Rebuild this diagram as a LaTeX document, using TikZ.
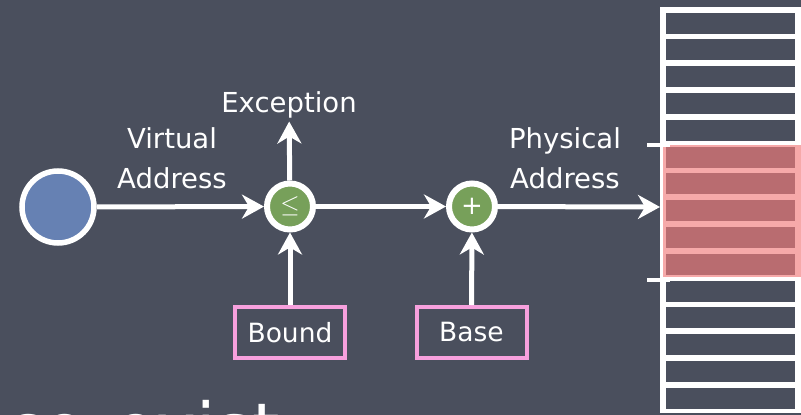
\documentclass[tikz,border=0pt]{standalone}
\usepackage{fontspec}
\setmainfont{DejaVu Sans}
\usetikzlibrary{arrows.meta}

\definecolor{board}{HTML}{4A4F5D}
\definecolor{vablue}{HTML}{6681B3}
\definecolor{opgreen}{HTML}{77A05A}
\definecolor{regpink}{HTML}{F7A0DD}
\definecolor{mempink}{HTML}{F6A9A9}
\definecolor{memred}{HTML}{B96C70}

\tikzset{
  chalk/.style={line width=5pt, draw=white},
  arr/.style={chalk, -{Stealth[length=22pt,width=24pt,inset=7pt]}},
  lbl/.style={text=white, font=\fontsize{27.5}{40}\selectfont, align=center, inner sep=3pt},
  opnode/.style={circle, draw=white, line width=6pt, fill=opgreen, minimum size=46pt,
    inner sep=0pt, text=white, font=\fontsize{26}{26}\selectfont},
  regbox/.style={draw=regpink, line width=4pt, minimum width=110pt, minimum height=51pt,
    text=white, font=\fontsize{26.5}{30}\selectfont, inner sep=0pt},
}

\begin{document}
\begin{tikzpicture}[x=1pt, y=-1pt]
  % board
  \clip (0,0) rectangle (801,415);
  \fill[board] (0,0) rectangle (801,415);

  % memory column: white frame with 15 slots
  \fill[white] (660,7) rectangle (810,413);
  \foreach \i in {0,...,14} {
    \fill[board] (665.5,{12.5+26.8*\i}) rectangle (795,{33.5+26.8*\i});
  }
  % highlighted region
  \fill[mempink] (663,145) rectangle (810,277);
  \foreach \i in {5,...,9} {
    \fill[memred] (665.5,{12.5+26.8*\i}) rectangle (795,{33.5+26.8*\i});
  }
  % region bounds
  \draw[line width=4pt, white] (647,145) -- (670,145);
  \draw[line width=4pt, white] (647,280) -- (670,280);
  \coordinate (memin) at (660,207);

  % nodes
  \node[circle, draw=white, line width=5.5pt, fill=vablue, minimum size=72pt] (va) at (58,207) {};
  \node[opnode] (le) at (290,206.5) {$\leq$};
  \node[opnode] (plus) at (472,206.5) {+};
  \node[lbl] (exc) at (289,105) {Exception};
  \node[lbl] (virt) at (172,158) {Virtual\\Address};
  \node[lbl] (phys) at (565,158) {Physical\\Address};
  \node[regbox] (bound) at (290,332.5) {Bound};
  \node[regbox] (base) at (471.5,332.5) {Base};

  % connectors
  \draw[arr] (va) -- (le);
  \draw[arr] (le) -- (exc);
  \draw[arr] (le) -- (plus);
  \draw[arr] (plus) -- (memin);
  \draw[arr] (bound) -- (le);
  \draw[arr] (base) -- (plus);

  % next line of slide text
  \node[text=white, font=\fontsize{70}{70}\selectfont, anchor=base east, inner sep=0pt] (next) at (280,453) {co-exist};
\end{tikzpicture}
\end{document}
